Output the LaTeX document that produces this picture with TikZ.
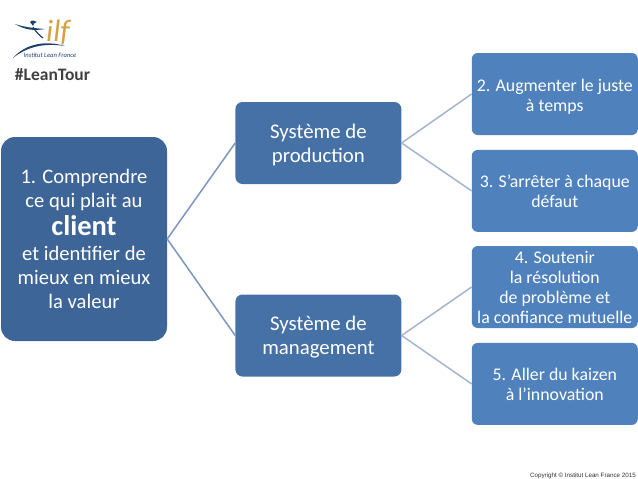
\documentclass[tikz,border=0pt]{standalone}
\usepackage{fontspec}
\setmainfont{Carlito}
\newfontfamily\copyfont{Liberation Sans}
\usepackage{xcolor}
\usetikzlibrary{positioning, calc}
\definecolor{rootblue}{RGB}{61,101,151}
\definecolor{midblue}{RGB}{70,113,166}
\definecolor{leafblue}{RGB}{79,129,189}
\definecolor{linkdark}{RGB}{125,150,190}
\definecolor{linklight}{RGB}{165,180,208}
\definecolor{logoblue}{RGB}{30,65,110}
\definecolor{logogold}{RGB}{214,160,70}
\newcommand{\topgap}[1]{\rule{0pt}{#1em}}

\begin{document}
\begin{tikzpicture}[
    x=1pt, y=1pt,
    box/.style={rectangle, rounded corners=6pt, draw=none, text=white, align=center, inner sep=0pt, minimum width=166pt},
    rootbox/.style={box, rounded corners=14pt, fill=rootblue, minimum height=204pt, font=\fontsize{20.6}{24.2}\selectfont},
    midbox/.style={box, rounded corners=7pt, fill=midblue, minimum height=82pt, font=\fontsize{20.8}{24}\selectfont},
    leafbox/.style={box, fill=leafblue, minimum height=82pt, font=\fontsize{17.8}{20}\selectfont},
    link/.style={linkdark, line width=1.5pt},
    leaflink/.style={linklight, line width=1.5pt},
    node distance=14.5pt and 68pt,
]
\useasboundingbox (0,0) rectangle (638,-479);

\node[rootbox] at (84,-239) (root) {1. Comprendre\\ce qui plait au\\[4pt]{\fontsize{28.5}{28}\selectfont\bfseries client}\\et identifier de\\mieux en mieux\\la valeur};
\node[midbox, right=68pt of root, yshift=96pt]  (prod) {\topgap{0.86}Système de\\production};
\node[midbox, right=68pt of root, yshift=-96.5pt] (mgmt) {\topgap{0.86}Système de\\management};
\node[leafbox, right=70pt of prod, yshift=49pt]  (juste)   {\topgap{1.05}2. Augmenter le juste\\à temps};
\node[leafbox, below=of juste]  (arret)   {3. S’arrêter à chaque\\défaut};
\node[leafbox, right=70pt of mgmt, yshift=48.5pt] (soutien) {4. Soutenir\\la résolution\\de problème et\\la confiance mutuelle};
\node[leafbox, below=of soutien] (kaizen)  {5. Aller du kaizen\\à l’innovation};

\draw[link] (root.east) -- (prod.west);
\draw[link] (root.east) -- (mgmt.west);
\draw[leaflink] (prod.east) -- (juste.west);
\draw[leaflink] (prod.east) -- (arret.west);
\draw[leaflink] (mgmt.east) -- (soutien.west);
\draw[leaflink] (mgmt.east) -- (kaizen.west);

% logo
\fill[logoblue] (15,-24) .. controls (24,-27) and (32,-28) .. (45,-29) .. controls (34,-31) and (25,-30) .. (15,-24) -- cycle;
\fill[logoblue] (30,-22) .. controls (31,-20) and (35,-20) .. (37,-22) .. controls (35,-22) and (33,-24) .. (33,-26) -- cycle;
\draw[logoblue, line width=1.2pt] (33,-27) .. controls (36,-32) and (40,-36) .. (43,-38);
\fill[logoblue] (13,-58) .. controls (25,-44) and (45,-40) .. (65,-46) .. controls (45,-43) and (28,-46) .. (13,-58) -- cycle;
\node[text=logogold, inner sep=0pt, font=\fontsize{31}{31}\selectfont\itshape] at (58,-33) (ilf) {ilf};
\node[text=logoblue, inner sep=0pt, font=\fontsize{6.6}{6.6}\selectfont\itshape] at (50,-55) (ilfname) {Institut Lean France};
\node[text=black!75, inner sep=0pt, font=\fontsize{17.5}{17.5}\selectfont\bfseries] at (52.5,-75) (tag) {\#LeanTour};
\node[text=black!80, inner sep=0pt, anchor=east, font=\fontsize{6.25}{6.25}\copyfont] at (636,-475.5) (copy) {Copyright © Institut Lean France 2015};
\end{tikzpicture}
\end{document}
